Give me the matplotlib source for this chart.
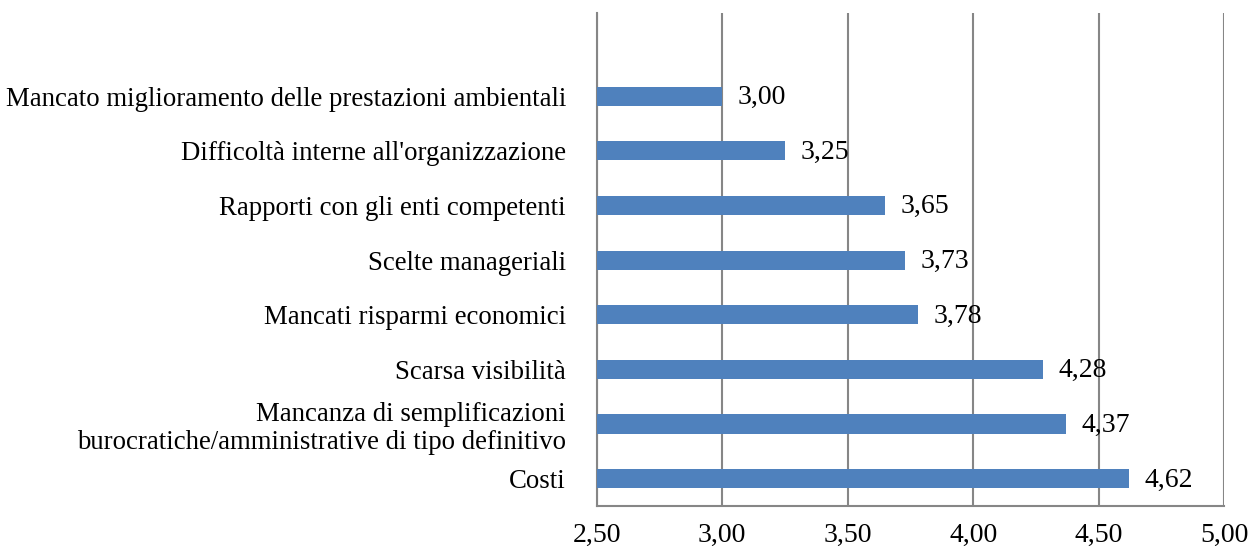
import matplotlib.pyplot as plt

categorie = ["Costi",
             "Mancanza di semplificazioni\nburocratiche/amministrative di tipo definitivo",
             "Scarsa visibilità",
             "Mancati risparmi economici",
             "Scelte manageriali",
             "Rapporti con gli enti competenti",
             "Difficoltà interne all'organizzazione",
             "Mancato miglioramento delle prestazioni ambientali"]
valori = [4.62, 4.37, 4.28, 3.78, 3.73, 3.65, 3.25, 3.00]
xticks = [2.5, 3.0, 3.5, 4.0, 4.5, 5.0]

plt.rcParams['font.family'] = ['Liberation Serif', 'DejaVu Serif']

fig = plt.figure(figsize=(12.48, 5.52), dpi=100)
ax = fig.add_axes([0.478, 0.0833, 0.503, 0.893])

y = range(len(categorie))
ax.barh(y, [v - 2.5 for v in valori], left=2.5, height=0.35, color='#4F81BD', zorder=3)
for i, v in enumerate(valori):
    ax.annotate(f"{v:.2f}".replace('.', ','), (v, i), xytext=(11, -1), textcoords='offset points',
                va='center', ha='left', fontsize=20, zorder=4)

ax.set_xlim(2.5, 5.0)
ax.set_ylim(-0.5, 8.52)
ax.set_xticks(xticks)
ax.set_xticklabels([f"{t:.2f}".replace('.', ',') for t in xticks], fontsize=20)
ax.set_yticks(list(y))
ax.set_yticklabels(categorie, fontsize=19.3, ha='right', linespacing=1.15)
ax.tick_params(axis='y', length=0, pad=22)
ax.tick_params(axis='x', length=0, pad=12)
ax.grid(axis='x', color='#868686', linewidth=1.5, zorder=0)
for s in ['top', 'right']:
    ax.spines[s].set_visible(False)
for s in ['left', 'bottom']:
    ax.spines[s].set_color('#868686')
    ax.spines[s].set_linewidth(1.5)

fig.savefig('out.png', dpi=100)
